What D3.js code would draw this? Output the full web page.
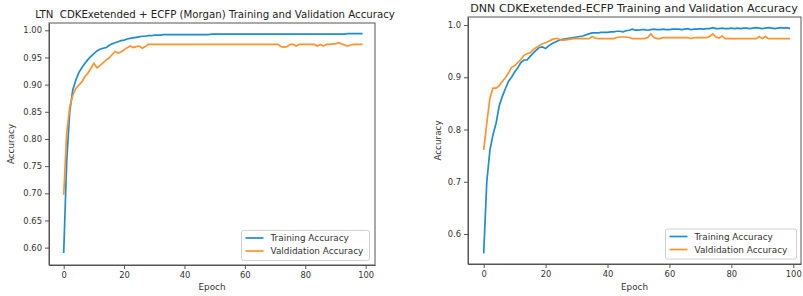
<!DOCTYPE html>
<html>
<head>
<meta charset="utf-8">
<script src="https://cdn.jsdelivr.net/npm/d3@7"></script>
<style>
  body { margin: 0; background: #fff; }
  svg { display: block; font-family: "DejaVu Sans", sans-serif; }
  .axis path, .axis line { stroke: #555; }
  .axis text { fill: #333; font-size: 8.4px; font-family: "DejaVu Sans", sans-serif; }
</style>
</head>
<body>
<svg id="svg" width="803" height="296"></svg>
<script>
var epochs = d3.range(0, 100);
var xTicks = [0, 20, 40, 60, 80, 100];
var ltnYTicks = [0.60, 0.65, 0.70, 0.75, 0.80, 0.85, 0.90, 0.95, 1.00];
var dnnYTicks = [0.6, 0.7, 0.8, 0.9, 1.0];
var legendLabels = ["Training Accuracy", "Valdidation Accuracy"];

// LTN panel (left)
var ltnTrain = [
  0.590, 0.760, 0.850, 0.890, 0.908, 0.922, 0.931, 0.939, 0.946, 0.952,
  0.957, 0.962, 0.965, 0.967, 0.968, 0.972, 0.975, 0.977, 0.979, 0.981,
  0.982, 0.984, 0.985, 0.986, 0.987, 0.988, 0.989, 0.989, 0.990, 0.990,
  0.991, 0.991, 0.991, 0.992, 0.992, 0.992, 0.992, 0.992, 0.992, 0.992,
  0.992, 0.992, 0.992, 0.992, 0.992, 0.992, 0.992, 0.992, 0.992, 0.993,
  0.993, 0.993, 0.993, 0.993, 0.993, 0.993, 0.993, 0.993, 0.993, 0.993,
  0.993, 0.993, 0.993, 0.993, 0.993, 0.993, 0.993, 0.993, 0.993, 0.993,
  0.993, 0.993, 0.993, 0.993, 0.993, 0.993, 0.993, 0.993, 0.993, 0.993,
  0.993, 0.993, 0.993, 0.993, 0.993, 0.993, 0.993, 0.993, 0.993, 0.993,
  0.993, 0.993, 0.993, 0.993, 0.994, 0.994, 0.994, 0.994, 0.994, 0.994
];
var ltnVal = [
  0.697, 0.811, 0.859, 0.880, 0.893, 0.899, 0.905, 0.915, 0.921, 0.930,
  0.939, 0.931, 0.935, 0.940, 0.945, 0.949, 0.955, 0.961, 0.958, 0.960,
  0.964, 0.968, 0.971, 0.968, 0.970, 0.971, 0.967, 0.970, 0.974, 0.974,
  0.974, 0.974, 0.974, 0.974, 0.974, 0.974, 0.974, 0.974, 0.974, 0.974,
  0.974, 0.974, 0.974, 0.974, 0.974, 0.974, 0.974, 0.974, 0.974, 0.974,
  0.974, 0.974, 0.974, 0.974, 0.974, 0.974, 0.974, 0.974, 0.974, 0.974,
  0.974, 0.974, 0.974, 0.974, 0.974, 0.974, 0.974, 0.974, 0.974, 0.974,
  0.974, 0.974, 0.970, 0.969, 0.970, 0.974, 0.974, 0.971, 0.974, 0.974,
  0.974, 0.974, 0.974, 0.974, 0.971, 0.974, 0.971, 0.974, 0.974, 0.975,
  0.975, 0.977, 0.975, 0.973, 0.971, 0.973, 0.974, 0.974, 0.974, 0.974
];

// DNN panel (right)
var dnnTrain = [
  0.563, 0.700, 0.760, 0.790, 0.812, 0.845, 0.863, 0.878, 0.892, 0.900,
  0.910, 0.918, 0.928, 0.933, 0.933, 0.940, 0.946, 0.952, 0.957, 0.958,
  0.955, 0.960, 0.964, 0.967, 0.970, 0.972, 0.973, 0.974, 0.975, 0.976,
  0.977, 0.978, 0.979, 0.981, 0.983, 0.985, 0.985, 0.985, 0.986, 0.986,
  0.986, 0.987, 0.987, 0.988, 0.988, 0.987, 0.989, 0.990, 0.992, 0.990,
  0.990, 0.991, 0.991, 0.990, 0.991, 0.992, 0.991, 0.991, 0.992, 0.991,
  0.991, 0.992, 0.992, 0.992, 0.991, 0.992, 0.993, 0.991, 0.992, 0.992,
  0.993, 0.992, 0.993, 0.993, 0.995, 0.993, 0.993, 0.994, 0.993, 0.993,
  0.994, 0.993, 0.994, 0.993, 0.994, 0.994, 0.993, 0.994, 0.995, 0.994,
  0.993, 0.994, 0.995, 0.994, 0.993, 0.994, 0.995, 0.994, 0.995, 0.993
];
var dnnVal = [
  0.761, 0.812, 0.860, 0.879, 0.879, 0.884, 0.892, 0.899, 0.908, 0.919,
  0.922, 0.928, 0.934, 0.942, 0.945, 0.947, 0.953, 0.957, 0.961, 0.964,
  0.966, 0.969, 0.972, 0.974, 0.974, 0.971, 0.971, 0.972, 0.973, 0.974,
  0.974, 0.974, 0.974, 0.974, 0.974, 0.978, 0.975, 0.974, 0.974, 0.974,
  0.974, 0.974, 0.974, 0.976, 0.977, 0.977, 0.977, 0.976, 0.974, 0.974,
  0.974, 0.974, 0.974, 0.976, 0.983, 0.976, 0.974, 0.974, 0.976, 0.976,
  0.976, 0.976, 0.976, 0.976, 0.976, 0.976, 0.976, 0.974, 0.976, 0.976,
  0.976, 0.976, 0.976, 0.978, 0.983, 0.977, 0.975, 0.979, 0.974, 0.974,
  0.974, 0.974, 0.974, 0.974, 0.974, 0.974, 0.974, 0.974, 0.974, 0.978,
  0.974, 0.978, 0.974, 0.974, 0.974, 0.974, 0.974, 0.974, 0.974, 0.974
];

var svg = d3.select("#svg"),
  blue = "#1f8cd0",
  orange = "#ff9330";

function panel(opt) {
  var x = d3.scaleLinear().domain(opt.xDomain).range([opt.left, opt.right]),
    y = d3.scaleLinear().domain(opt.yDomain).range([opt.bottom, opt.top]);

  var g = svg.append("g");

  g.append("g")
    .attr("class", "axis")
    .attr("transform", "translate(0," + opt.bottom + ")")
    .call(d3.axisBottom(x).tickValues(xTicks).tickSize(4).tickPadding(3).tickSizeOuter(0));
  g.append("g")
    .attr("class", "axis")
    .attr("transform", "translate(" + opt.left + ",0)")
    .call(d3.axisLeft(y).tickValues(opt.yTicks).tickFormat(d3.format(opt.fmt)).tickSize(4).tickPadding(3).tickSizeOuter(0));

  // frame
  g.append("rect")
    .attr("x", opt.left)
    .attr("y", opt.top)
    .attr("width", opt.right - opt.left)
    .attr("height", opt.bottom - opt.top)
    .attr("fill", "none")
    .attr("stroke", "#555")
    .attr("stroke-width", 1);

  var line = d3.line()
    .x(function (d, i) { return x(epochs[i]); })
    .y(function (d) { return y(d); });

  g.append("path")
    .attr("d", line(opt.train))
    .attr("fill", "none")
    .attr("stroke", blue)
    .attr("stroke-width", 1.7);
  g.append("path")
    .attr("d", line(opt.val))
    .attr("fill", "none")
    .attr("stroke", orange)
    .attr("stroke-width", 1.7);

  g.append("text")
    .attr("x", opt.titleX)
    .attr("y", opt.titleY)
    .attr("text-anchor", "middle")
    .attr("fill", "#222")
    .style("font-size", opt.titleSize + "px")
    .style("white-space", "pre")
    .text(opt.title);

  g.append("text")
    .attr("x", (opt.left + opt.right) / 2)
    .attr("y", 290)
    .attr("text-anchor", "middle")
    .attr("fill", "#333")
    .style("font-size", "8.8px")
    .text("Epoch");

  g.append("text")
    .attr("transform", "translate(" + opt.yLabelX + "," + (opt.top + opt.bottom) / 2 + ") rotate(-90)")
    .attr("text-anchor", "middle")
    .attr("fill", "#333")
    .style("font-size", "8.8px")
    .text("Accuracy");

  // legend
  var lg = g.append("g").attr("transform", "translate(" + opt.legend[0] + "," + opt.legend[1] + ")");
  lg.append("rect")
    .attr("width", opt.legend[2])
    .attr("height", 30)
    .attr("rx", 2)
    .attr("fill", "#fff")
    .attr("stroke", "#d0d0d0");
  [blue, orange].forEach(function (c, i) {
    lg.append("line")
      .attr("x1", 4).attr("x2", 22)
      .attr("y1", 7.5 + i * 13).attr("y2", 7.5 + i * 13)
      .attr("stroke", c)
      .attr("stroke-width", 1.7);
    lg.append("text")
      .attr("x", 29)
      .attr("y", 10.7 + i * 13)
      .attr("fill", "#333")
      .style("font-size", "8.9px")
      .text(legendLabels[i]);
  });
}

panel({
  left: 49, right: 375, top: 23, bottom: 265,
  xDomain: [-4.87, 103.1], yDomain: [0.568, 1.0134],
  yTicks: ltnYTicks, fmt: ".2f",
  train: ltnTrain, val: ltnVal,
  title: "LTN  CDKExetended + ECFP (Morgan) Training and Validation Accuracy",
  titleX: 215, titleY: 18, titleSize: 10.2, yLabelX: 14,
  legend: [241.5, 230.5, 128]
});

panel({
  left: 468, right: 801, top: 17, bottom: 264,
  xDomain: [-5.07, 102.5], yDomain: [0.5426, 1.0153],
  yTicks: dnnYTicks, fmt: ".1f",
  train: dnnTrain, val: dnnVal,
  title: "DNN CDKExetended-ECFP Training and Validation Accuracy",
  titleX: 634, titleY: 12, titleSize: 11.1, yLabelX: 441,
  legend: [665.5, 229, 131]
});
</script>
</body>
</html>
